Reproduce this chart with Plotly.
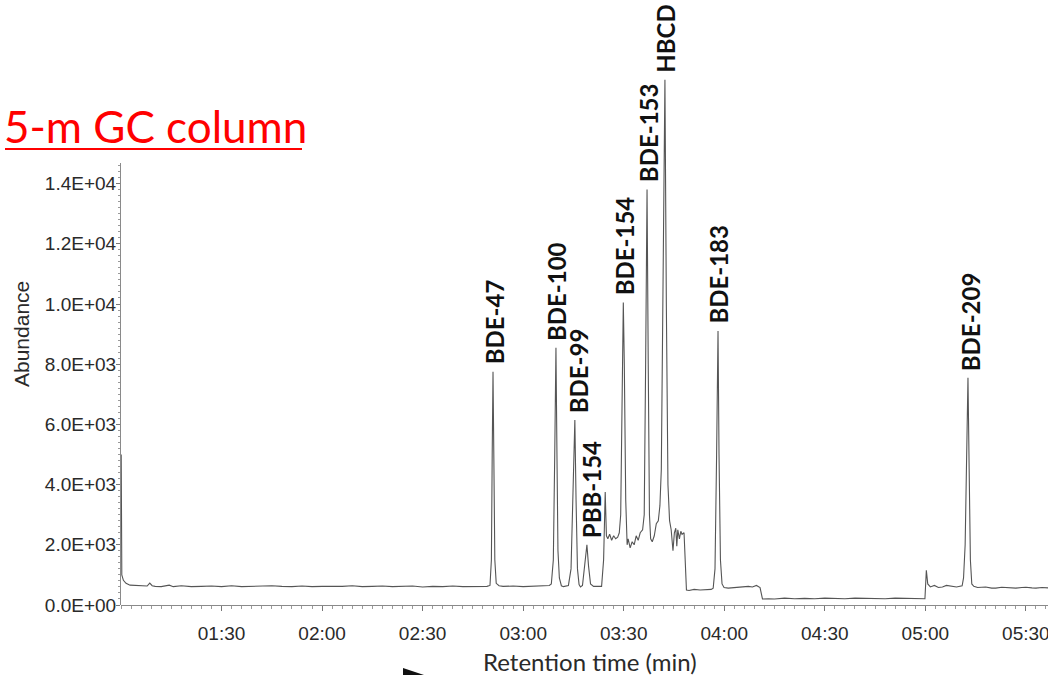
import plotly.graph_objects as go

# ---------------- data ----------------
ret_time = [1.001, 1.004, 1.012, 1.025, 1.045, 1.07, 1.10, 1.13, 1.143, 1.155, 1.17, 1.20, 1.24, 1.26,
            1.30, 1.35, 1.40, 1.45, 1.50, 1.55, 1.60, 1.65, 1.70, 1.75, 1.80, 1.85, 1.90, 1.95,
            2.00, 2.05, 2.10, 2.15, 2.20, 2.25, 2.30, 2.35, 2.40, 2.45, 2.50, 2.55, 2.60, 2.65,
            2.70, 2.75, 2.80, 2.82,
            2.835, 2.842, 2.846, 2.850, 2.854, 2.859, 2.866, 2.880,
            2.90, 2.95, 3.00, 3.05, 3.10, 3.13,
            3.140, 3.150, 3.157, 3.163, 3.168, 3.173, 3.180, 3.190, 3.200, 3.215,
            3.225, 3.238, 3.248, 3.257, 3.263, 3.270, 3.278, 3.285,
            3.295, 3.305, 3.317, 3.325, 3.335, 3.350, 3.370,
            3.390, 3.400, 3.408, 3.414, 3.421, 3.430, 3.440, 3.450, 3.460, 3.470, 3.478,
            3.485, 3.493, 3.498, 3.503, 3.510, 3.517,
            3.522, 3.532, 3.542, 3.552, 3.562, 3.572, 3.582, 3.594,
            3.602, 3.609, 3.616, 3.622, 3.628, 3.634, 3.642, 3.652, 3.662, 3.672, 3.680,
            3.687, 3.696, 3.705, 3.712, 3.720, 3.728, 3.736,
            3.745, 3.752, 3.759, 3.764, 3.769, 3.777, 3.784, 3.790, 3.800, 3.812, 3.825,
            3.85, 3.88, 3.91, 3.935, 3.945,
            3.954, 3.962, 3.969, 3.974, 3.981, 3.989, 3.999,
            4.02, 4.05, 4.08, 4.10, 4.12, 4.14, 4.16, 4.178, 4.190,
            4.22, 4.25, 4.30, 4.35, 4.40, 4.45, 4.50, 4.55, 4.60, 4.65, 4.70, 4.75, 4.80,
            4.85, 4.90, 4.95, 4.998,
            5.005, 5.012, 5.025, 5.045, 5.065, 5.085, 5.105, 5.125, 5.155, 5.183,
            5.190, 5.198, 5.205, 5.212, 5.218, 5.224, 5.231, 5.241,
            5.26, 5.28, 5.30, 5.33, 5.35, 5.38, 5.40, 5.43, 5.45, 5.48, 5.50, 5.53, 5.55, 5.58, 5.61]

abundance = [5000, 1000, 820, 720, 660, 650, 640, 630, 730, 640, 620, 610, 660, 610,
             640, 610, 620, 630, 610, 640, 610, 620, 610, 640, 620, 610, 630, 610,
             620, 610, 620, 640, 610, 620, 630, 610, 620, 630, 600, 620, 610, 630,
             610, 620, 640, 620,
             650, 1500, 5000, 7750, 5000, 1500, 720, 640,
             620, 630, 610, 620, 640, 650,
             700, 1500, 5000, 8550, 5000, 1800, 900, 640, 610, 620,
             650, 1200, 4000, 6150, 3500, 1200, 680, 600,
             650, 1300, 2000, 1300, 700, 620, 630,
             620, 1500, 3750, 2300, 2200, 2350, 2150, 2300, 2200, 2250, 2400,
             3000, 8000, 10050, 8000, 3500, 2000,
             2200, 1900, 2100, 2000, 2300, 2150, 2400, 2500,
             3000, 8000, 13800, 8000, 3000, 2200, 2100, 2300, 2700, 2800, 3300,
             4500, 10000, 17450, 10000, 4000, 2800, 2500,
             1800, 2400, 2550, 1950, 2500, 2200, 2450, 2350, 2400, 500, 480,
             520, 500, 510, 520, 560,
             1200, 5000, 9100, 5000, 1500, 700, 580,
             560, 580, 600, 590, 620, 600, 650, 580, 200,
             210, 200, 230, 210, 220, 210, 230, 220, 210, 230, 220, 220, 210,
             230, 220, 210, 210,
             1150, 700, 600, 650, 580, 600, 650, 620, 600, 640,
             900, 2000, 5000, 7550, 4500, 1500, 700, 620,
             580, 600, 600, 560, 560, 590, 580, 560, 560, 580, 590, 570, 560, 580, 570]

peak_names = ["BDE-47", "BDE-100", "BDE-99", "PBB-154", "BDE-154", "BDE-153", "HBCD", "BDE-183", "BDE-209"]
peak_times = [2.850, 3.163, 3.257, 3.317, 3.498, 3.616, 3.705, 3.969, 5.212]
peak_heights = [7750, 8550, 6150, 2000, 10050, 13800, 17450, 9100, 7550]

x_tick_vals = [1.5, 2.0, 2.5, 3.0, 3.5, 4.0, 4.5, 5.0, 5.5]
x_tick_text = ["01:30", "02:00", "02:30", "03:00", "03:30", "04:00", "04:30", "05:00", "05:30"]
y_tick_vals = [0, 2000, 4000, 6000, 8000, 10000, 12000, 14000]
y_tick_text = ["0.0E+00", "2.0E+03", "4.0E+03", "6.0E+03", "8.0E+03", "1.0E+04", "1.2E+04", "1.4E+04"]

# ---------------- layout geometry ----------------
W, H = 1048, 675
L, B, T, R = 121, 70, 0, 0
PW, PH = W - L - R, H - T - B
PX_PER_1000 = 30.1


def pxx(px):  # pixel -> paper x
    return (px - L) / PW


def pxy(py):  # pixel -> paper y
    return (H - B - py) / PH


Y_MAX = PH / PX_PER_1000 * 1000
Y_AXIS_TOP = 14700

# small horizontal nudges of the rotated peak labels (px)
label_xshift = [0, -1, 3, 3, 0, 0, 0, 0, 1]

fig = go.Figure()

fig.add_trace(go.Scatter(
    x=ret_time, y=abundance, mode="lines",
    line=dict(color="#555555", width=1.1),
    xaxis="x", yaxis="y", showlegend=False, hoverinfo="x+y",
))
# invisible trace to host the visible (shorter) abundance axis
fig.add_trace(go.Scatter(
    x=[ret_time[0]], y=[0], mode="lines", xaxis="x", yaxis="y2",
    showlegend=False, hoverinfo="skip", line=dict(width=0),
))

tick_font = dict(family="Liberation Sans, Arial, sans-serif", size=19, color="#2a2a2a")

fig.update_layout(
    width=W, height=H,
    margin=dict(l=L, r=R, t=T, b=B, pad=0, autoexpand=False),
    paper_bgcolor="white", plot_bgcolor="rgba(0,0,0,0)",
    xaxis=dict(
        range=[1.0, 5.61], domain=[0, 1], anchor="y", automargin=False,
        showgrid=False, zeroline=False,
        showline=True, linecolor="#8a8a8a", linewidth=1,
        tickmode="array", tickvals=x_tick_vals, ticktext=x_tick_text,
        ticks="outside", ticklen=5, tickcolor="#777777", tickwidth=1,
        minor=dict(dtick=0.05, ticks="outside", ticklen=3, tickcolor="#9a9a9a", tickwidth=1),
        tickfont=tick_font, ticklabelstandoff=6, ticklabeloverflow="allow",
    ),
    yaxis=dict(
        range=[0, Y_MAX], domain=[0, 1], visible=False, fixedrange=True, automargin=False,
    ),
    yaxis2=dict(
        range=[0, Y_AXIS_TOP], domain=[0, Y_AXIS_TOP / Y_MAX], anchor="x", automargin=False,
        showgrid=False, zeroline=False,
        showline=True, linecolor="#8a8a8a", linewidth=1,
        tickmode="array", tickvals=y_tick_vals, ticktext=y_tick_text,
        ticks="outside", ticklen=4, tickcolor="#777777", tickwidth=1,
        minor=dict(dtick=200, ticks="outside", ticklen=2, tickcolor="#9a9a9a", tickwidth=1),
        tickfont=tick_font, ticklabelstandoff=-4,
    ),
)

annotations = []
for name, t, h, dx in zip(peak_names, peak_times, peak_heights, label_xshift):
    annotations.append(dict(
        x=t, y=h, xref="x", yref="y", text=f"<b>{name}</b>", showarrow=False,
        textangle=-90, xanchor="center", yanchor="bottom", yshift=5, xshift=1 + dx,
        font=dict(family="Lato, Open Sans, sans-serif", size=24, color="#111111"),
    ))

annotations += [
    dict(x=pxx(2), y=pxy(126), xref="paper", yref="paper", xanchor="left", yanchor="middle",
         text="5-m GC column", showarrow=False,
         font=dict(family="Lato, Open Sans, sans-serif", size=44, color="#ff0000")),
    dict(x=pxx(21), y=pxy(334), xref="paper", yref="paper", xanchor="center", yanchor="middle",
         text="Abundance", showarrow=False, textangle=-90,
         font=dict(family="Liberation Sans, Arial, sans-serif", size=21, color="#2a2a2a")),
    dict(x=pxx(590), y=pxy(661), xref="paper", yref="paper", xanchor="center", yanchor="middle",
         text="Retention time (min)", showarrow=False,
         font=dict(family="Lato, Open Sans, sans-serif", size=24, color="#2a2a2a")),
]
fig.update_layout(annotations=annotations)

fig.update_layout(shapes=[
    dict(type="line", xref="paper", yref="paper", x0=pxx(5), x1=pxx(302), y0=pxy(149), y1=pxy(149),
         line=dict(color="#ff0000", width=2)),
    dict(type="path", xref="paper", yref="paper",
         path=f"M {pxx(403)} {pxy(668)} L {pxx(424)} {pxy(675)} L {pxx(403)} {pxy(675)} Z",
         fillcolor="#111111", line=dict(width=0)),
])

# remove the default 8px page margin so the figure fills the 1048x675 window exactly
fig.write_html(
    "out.html",
    config={"displayModeBar": False},
    post_script="document.body.style.margin='0';document.body.style.overflow='hidden';",
)
